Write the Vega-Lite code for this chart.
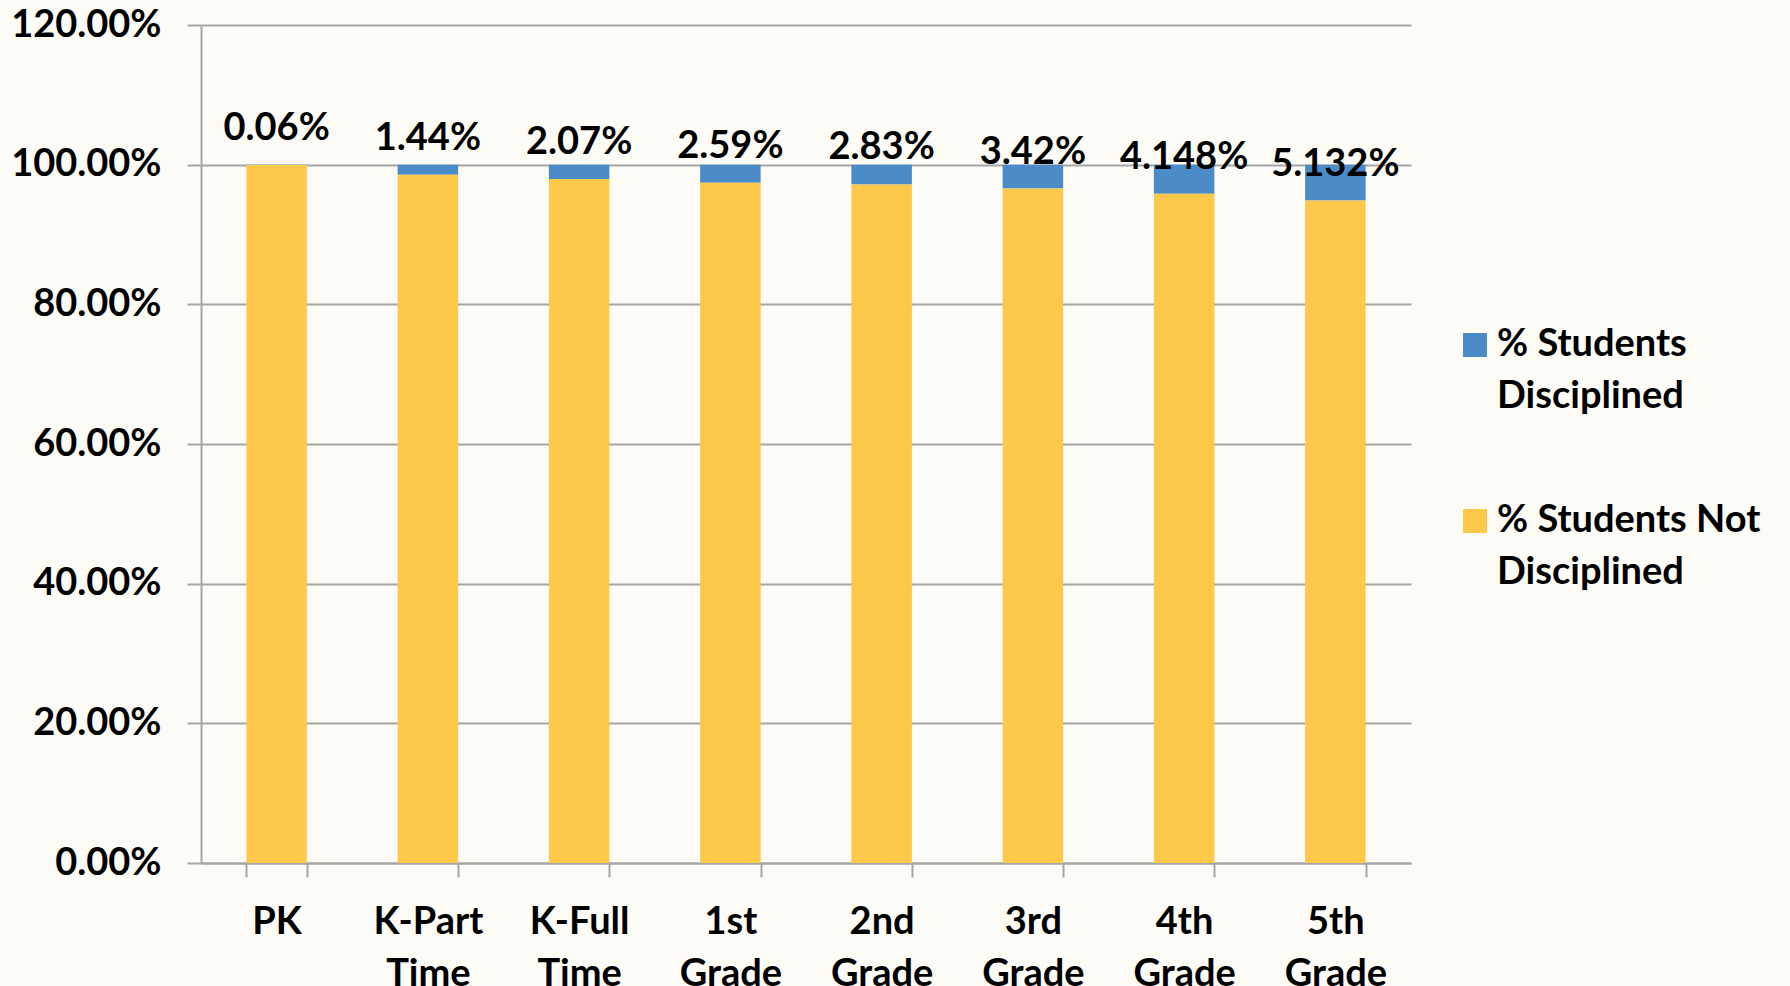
{
  "$schema": "https://vega.github.io/schema/vega-lite/v6.json",
  "width": 1210,
  "height": 838,
  "autosize": {"type": "none"},
  "padding": {"left": 201, "top": 25, "right": 379, "bottom": 123},
  "background": "#fcfbf6",
  "config": {"view": {"stroke": null}, "font": "Lato"},
  "data": {
    "values": [
      {"grade": "PK", "% Students Disciplined": 0.0006, "% Students Not Disciplined": 0.9994, "label": "0.06%"},
      {"grade": "K-Part Time", "% Students Disciplined": 0.0144, "% Students Not Disciplined": 0.9856, "label": "1.44%"},
      {"grade": "K-Full Time", "% Students Disciplined": 0.0207, "% Students Not Disciplined": 0.9793, "label": "2.07%"},
      {"grade": "1st Grade", "% Students Disciplined": 0.0259, "% Students Not Disciplined": 0.9741, "label": "2.59%"},
      {"grade": "2nd Grade", "% Students Disciplined": 0.0283, "% Students Not Disciplined": 0.9717, "label": "2.83%"},
      {"grade": "3rd Grade", "% Students Disciplined": 0.0342, "% Students Not Disciplined": 0.9658, "label": "3.42%"},
      {"grade": "4th Grade", "% Students Disciplined": 0.04148, "% Students Not Disciplined": 0.95852, "label": "4.148%"},
      {"grade": "5th Grade", "% Students Disciplined": 0.05132, "% Students Not Disciplined": 0.94868, "label": "5.132%"}
    ]
  },
  "encoding": {
    "x": {
      "field": "grade",
      "type": "nominal",
      "sort": null,
      "scale": {"paddingInner": 0.6, "paddingOuter": 0.3},
      "axis": {
        "title": null,
        "labelAngle": 0,
        "labelExpr": "split(datum.label, ' ')",
        "labelFontSize": 38,
        "labelFontWeight": "bold",
        "labelColor": "#000000",
        "labelBaseline": "top",
        "labelLineHeight": 52,
        "labelPadding": 26,
        "domainColor": "#a6a6a6",
        "domainWidth": 2,
        "tickColor": "#a6a6a6",
        "tickWidth": 2,
        "tickSize": 14,
        "tickBand": "extent"
      }
    }
  },
  "layer": [
    {
      "transform": [{"fold": ["% Students Disciplined", "% Students Not Disciplined"], "as": ["key", "value"]}],
      "mark": {"type": "bar"},
      "encoding": {
        "y": {
          "field": "value",
          "type": "quantitative",
          "stack": "zero",
          "scale": {"domain": [0, 1.2]},
          "axis": {
            "title": null,
            "format": ".2%",
            "values": [0, 0.2, 0.4, 0.6, 0.8, 1.0, 1.2],
            "grid": true,
            "gridColor": "#a6a6a6",
            "gridWidth": 2,
            "domainColor": "#a6a6a6",
            "domainWidth": 2,
            "tickColor": "#a6a6a6",
            "tickWidth": 2,
            "tickSize": 14,
            "labelPadding": 26,
            "labelFontSize": 38,
            "labelFontWeight": "bold",
            "labelColor": "#000000"
          }
        },
        "color": {
          "field": "key",
          "type": "nominal",
          "scale": {"domain": ["% Students Disciplined", "% Students Not Disciplined"], "range": ["#4a8bc8", "#fec84a"]},
          "legend": {
            "title": null,
            "orient": "none",
            "legendX": 1255,
            "legendY": 301,
            "padding": 0,
            "symbolType": "square",
            "symbolSize": 576,
            "symbolStrokeWidth": 0,
            "labelFontSize": 38,
            "labelFontWeight": "bold",
            "labelColor": "#000000",
            "labelLimit": 600,
            "labelOffset": 3,
            "rowPadding": 86,
            "labelExpr": "datum.label == '% Students Disciplined' ? ['% Students', 'Disciplined'] : ['% Students Not', 'Disciplined']",
            "encode": {"labels": {"update": {"lineHeight": {"value": 52}}}}
          }
        },
        "order": {"field": "key", "sort": "descending"}
      }
    },
    {
      "mark": {"type": "text", "dy": -36, "fontSize": 38, "fontWeight": "bold", "baseline": "middle", "color": "#000000"},
      "encoding": {
        "y": {"field": "% Students Not Disciplined", "type": "quantitative"},
        "text": {"field": "label"}
      }
    }
  ]
}
